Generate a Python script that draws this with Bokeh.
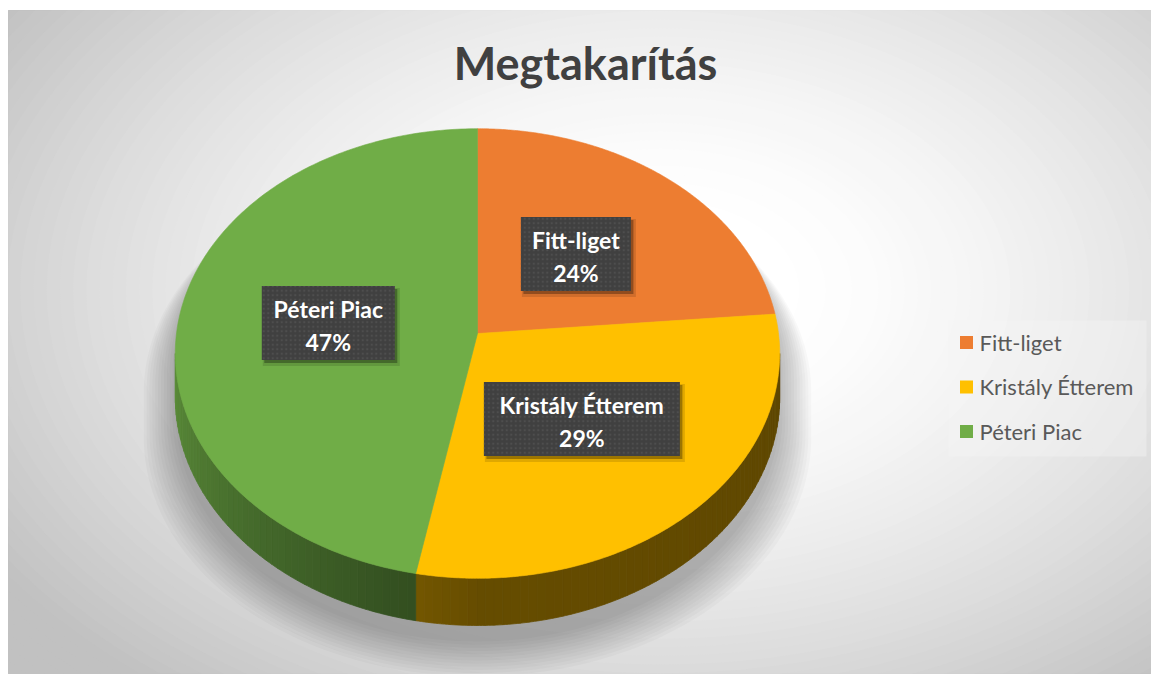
import numpy as np
from bokeh.plotting import figure
from bokeh.models import Range1d
from bokeh.core.properties import value
from bokeh.embed import file_html
from bokeh.resources import INLINE

# ---------------- data ----------------
title = "Megtakarítás"
categories = ["Fitt-liget", "Kristály Étterem", "Péteri Piac"]
values = [23.6, 29.4, 47.0]
pct_labels = ["24%", "29%", "47%"]
colors = ["#ED7D31", "#FFC000", "#70AD47"]

# ---------------- layout / style ----------------
W, H = 1151, 675
X0, X1, Y0, Y1 = 8, 1151, 10, 673
cx, cy = 477.0, 333.0
rx, ry = 301.0, 223.0
kpersp = 0.089
depth = 43.0
box_w = [110, 196, 133]
box_h = 74
FONT = "Lato"
BL = 0.31  # baseline correction factor (fraction of font size)

p = figure(width=W, height=H, x_range=Range1d(X0, X1), y_range=Range1d(Y1, Y0),
           output_backend="svg", toolbar_location=None,
           x_axis_location=None, y_axis_location=None,
           min_border_top=10, min_border_left=8, min_border_right=0, min_border_bottom=2)
p.grid.visible = False
p.outline_line_color = "#bfbfbf"
p.background_fill_color = "#c4c4c4"
p.border_fill_color = "white"

# ---- background radial gradient (concentric ellipses) ----
gcx, gcy, grx, gry = 660.0, 290.0, 660.0, 430.0
ts = np.arange(1.45, 0.0, -0.02)
gcols = []
for t in ts:
    g = min(1.0, max(0.0, (t - 0.18) / 1.02)) ** 1.5
    c = int(round(255 - 62 * g))
    gcols.append("#%02x%02x%02x" % (c, c, c))
p.ellipse(x=[gcx] * len(ts), y=[gcy] * len(ts), width=list(2 * grx * ts), height=list(2 * gry * ts),
          fill_color=gcols, line_color=None)


def proj(theta_deg, r=1.0, drop=0.0):
    th = np.radians(theta_deg)
    u = r * np.sin(th)
    v = r * np.cos(th)
    s = 1.0 / (1.0 + kpersp * v)
    return cx + rx * u * s, cy - ry * v * s + drop * s


# slice angles
tot = float(sum(values))
bounds = [0.0]
for v_ in values:
    bounds.append(bounds[-1] + 360.0 * v_ / tot)

th_r = np.degrees(np.arccos(-kpersp))
th_l = 360.0 - th_r

# ---- shadow ----
back = np.linspace(th_l, th_r + 360.0, 120)
front = np.linspace(th_r, th_l, 120)
bx, by = proj(back)
fx, fy = proj(front, drop=depth)
sil_x = np.concatenate([bx, fx])
sil_y = np.concatenate([by, fy])
sh_xs, sh_ys = [], []
for i in range(12):
    sx = 1.00 + 0.0095 * i
    sy = 1.00 + 0.004 * i
    dy = 16 + 2.0 * i
    sh_xs.append(list(cx + (sil_x - cx) * sx))
    sh_ys.append(list(cy + (sil_y - cy) * sy + dy))
p.patches(xs=sh_xs, ys=sh_ys, fill_color="black", fill_alpha=0.025, line_color=None)


def shade(th):
    if th <= 180:
        return 0.37 + 0.03 * (th - th_r) / (180 - th_r)
    return 0.40 + 0.42 * (th - 180) / (th_l - 180)


def darken(hexc, f):
    h = hexc.lstrip("#")
    r, g, b = int(h[0:2], 16), int(h[2:4], 16), int(h[4:6], 16)
    return "#%02x%02x%02x" % (int(r * f), int(g * f), int(b * f))


# ---- sides ----
side_xs, side_ys, side_c = [], [], []
for i in range(len(values)):
    a, b = max(bounds[i], th_r), min(bounds[i + 1], th_l)
    if b <= a:
        continue
    n = max(2, int((b - a) / 1.5))
    edges = np.linspace(a, b, n + 1)
    for j in range(n):
        t1, t2 = edges[j], edges[j + 1]
        tt = np.linspace(t1, t2, 4)
        x1, y1 = proj(tt)
        x2, y2 = proj(tt[::-1], drop=depth)
        side_xs.append(list(np.concatenate([x1, x2])))
        side_ys.append(list(np.concatenate([y1, y2])))
        side_c.append(darken(colors[i], shade(0.5 * (t1 + t2))))
p.patches(xs=side_xs, ys=side_ys, fill_color=side_c, line_color=side_c, line_width=0.8)

# ---- top faces ----
top_xs, top_ys = [], []
for i in range(len(values)):
    tt = np.linspace(bounds[i], bounds[i + 1], 200)
    x, y = proj(tt)
    top_xs.append([cx] + list(x))
    top_ys.append([cy] + list(y))
p.patches(xs=top_xs, ys=top_ys, fill_color=colors, line_color=colors, line_width=0.6)

# ---- data labels ----
lx, ly = [], []
for i in range(len(values)):
    mid = 0.5 * (bounds[i] + bounds[i + 1])
    x, y = proj(mid, r=0.5)
    lx.append(float(x))
    ly.append(float(y))
p.rect(x=[x + 3 for x in lx], y=[y + 4 for y in ly], width=[w + 4 for w in box_w], height=box_h + 4,
       fill_color="black", fill_alpha=0.12, line_color=None)
p.rect(x=[x + 2.5 for x in lx], y=[y + 3 for y in ly], width=box_w, height=box_h,
       fill_color="black", fill_alpha=0.3, line_color=None)
p.rect(x=lx, y=ly, width=box_w, height=box_h, fill_color="#404040", line_color=None,
       hatch_pattern="dot", hatch_color="#4e4e4e", hatch_scale=4.5, hatch_weight=1.2)
lfs = 23
p.text(x=lx, y=[y - 7 - BL * lfs for y in ly], text=categories, text_font=value(FONT), text_font_style="bold",
       text_font_size=value("%dpx" % lfs), text_color="white", text_align="center", text_baseline="alphabetic")
p.text(x=lx, y=[y + 26 - BL * lfs for y in ly], text=pct_labels, text_font=value(FONT), text_font_style="bold",
       text_font_size=value("%dpx" % lfs), text_color="white", text_align="center", text_baseline="alphabetic")

# ---- title ----
tfs = 45
p.text(x=[585], y=[76 - BL * tfs], text=[title], text_font=value(FONT), text_font_style="bold",
       text_font_size=value("%dpx" % tfs), text_color="#404040", text_align="center", text_baseline="alphabetic")

# ---- legend ----
p.rect(x=[1047], y=[388], width=198, height=136, fill_color="#f4f4f4", fill_alpha=0.4, line_color=None)
leg_y = [342, 386.5, 431]
gfs = 22
p.rect(x=[966] * 3, y=leg_y, width=13, height=13, fill_color=colors, line_color=None)
p.text(x=[979] * 3, y=[y + 6.5 - BL * gfs for y in leg_y], text=categories, text_font=value(FONT),
       text_font_size=value("%dpx" % gfs), text_color="#595959", text_align="left", text_baseline="alphabetic")

open("out.html", "w").write(file_html(p, INLINE))
